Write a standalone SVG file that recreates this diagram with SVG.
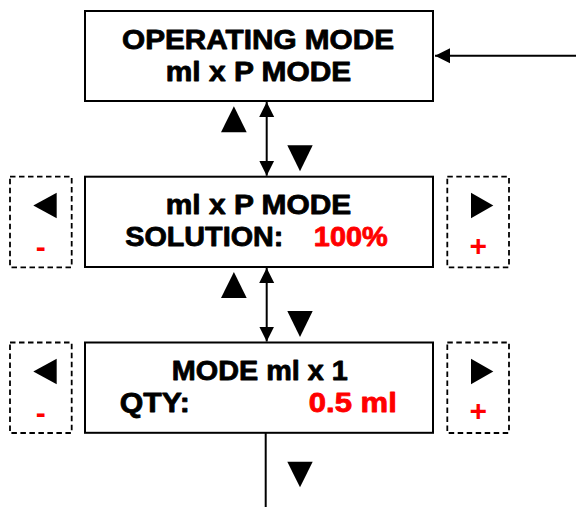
<svg xmlns="http://www.w3.org/2000/svg" width="576" height="507" viewBox="0 0 576 507">
<style>
.box{fill:#fff;stroke:#000;stroke-width:2}
.dash{fill:none;stroke:#000;stroke-width:1.8;stroke-dasharray:5.5 3.5}
.t{font-family:"Liberation Sans",Arial,sans-serif;font-weight:bold;font-size:27px;fill:#000;stroke:#000;stroke-width:0.8;stroke-linejoin:round}
.t.r{fill:#ff0000;stroke:#ff0000}
.sym{font-family:"Liberation Sans",Arial,sans-serif;font-weight:bold;font-size:30px;fill:#ff0000;text-anchor:middle}
.tri{fill:#000}
.ln{stroke:#000;stroke-width:2;fill:none}
</style>
<defs>
<marker id="ah" markerUnits="userSpaceOnUse" markerWidth="16" markerHeight="16" viewBox="0 0 16 16" refX="15" refY="8" orient="auto-start-reverse">
<path d="M0,0.5 L15,8 L0,15.5 Z" fill="#000"/>
</marker>
</defs>
<g id="connectors">
<line class="ln" x1="576" y1="55.7" x2="435" y2="55.7" marker-end="url(#ah)"/>
<line class="ln" x1="266.7" y1="102" x2="266.7" y2="175.7" marker-start="url(#ah)" marker-end="url(#ah)"/>
<line class="ln" x1="266.7" y1="268" x2="266.7" y2="341.5" marker-start="url(#ah)" marker-end="url(#ah)"/>
<line class="ln" x1="265.7" y1="433" x2="265.7" y2="507"/>
<polygon class="tri" points="233.9,106.3 221,132.3 246.7,132.3"/>
<polygon class="tri" points="287.3,145.3 312.7,145.3 300,171.3"/>
<polygon class="tri" points="233.9,272 221,298 246.7,298"/>
<polygon class="tri" points="287.3,311 312.7,311 300,337"/>
<polygon class="tri" points="287.3,461.7 312.7,461.7 300,487.3"/>
</g>
<g id="node-operating-mode">
<rect class="box" x="85" y="11" width="348" height="90"/>
<text class="t" x="122" y="48.5" textLength="272" lengthAdjust="spacingAndGlyphs">OPERATING MODE</text>
<text class="t" x="165.8" y="80.5" textLength="185.5" lengthAdjust="spacingAndGlyphs">ml x P MODE</text>
</g>
<g id="node-solution">
<rect class="box" x="85" y="176.7" width="348" height="90.3"/>
<text class="t" x="165.8" y="214" textLength="185.5" lengthAdjust="spacingAndGlyphs">ml x P MODE</text>
<text class="t" x="125.3" y="245.5" textLength="158" lengthAdjust="spacingAndGlyphs">SOLUTION:</text>
<text class="t r" x="313.8" y="245.5" textLength="74" lengthAdjust="spacingAndGlyphs">100%</text>
</g>
<g id="node-solution-minus">
<rect class="dash" x="10" y="176.7" width="61.7" height="90.6"/>
<polygon class="tri" points="33.3,205.5 56.7,192.7 56.7,218.3"/>
<text class="sym" x="40.8" y="257">-</text>
</g>
<g id="node-solution-plus">
<rect class="dash" x="447.3" y="176.7" width="61.7" height="90.6"/>
<polygon class="tri" points="471,192.7 471,218.3 493.3,205.5"/>
<text class="sym" x="478.3" y="255.5">+</text>
</g>
<g id="node-qty">
<rect class="box" x="85" y="342.5" width="348" height="90.3"/>
<text class="t" x="171.8" y="380" textLength="176" lengthAdjust="spacingAndGlyphs">MODE ml x 1</text>
<text class="t" x="119.8" y="411.5" textLength="70" lengthAdjust="spacingAndGlyphs">QTY:</text>
<text class="t r" x="308.8" y="411.5" textLength="88" lengthAdjust="spacingAndGlyphs">0.5 ml</text>
</g>
<g id="node-qty-minus">
<rect class="dash" x="10" y="342.5" width="61.7" height="90.5"/>
<polygon class="tri" points="33.3,371.5 56.7,358.7 56.7,384.3"/>
<text class="sym" x="40.8" y="422.8">-</text>
</g>
<g id="node-qty-plus">
<rect class="dash" x="447.3" y="342.5" width="61.7" height="90.5"/>
<polygon class="tri" points="471,358.7 471,384.3 493.3,371.5"/>
<text class="sym" x="478.3" y="421.3">+</text>
</g>
</svg>
